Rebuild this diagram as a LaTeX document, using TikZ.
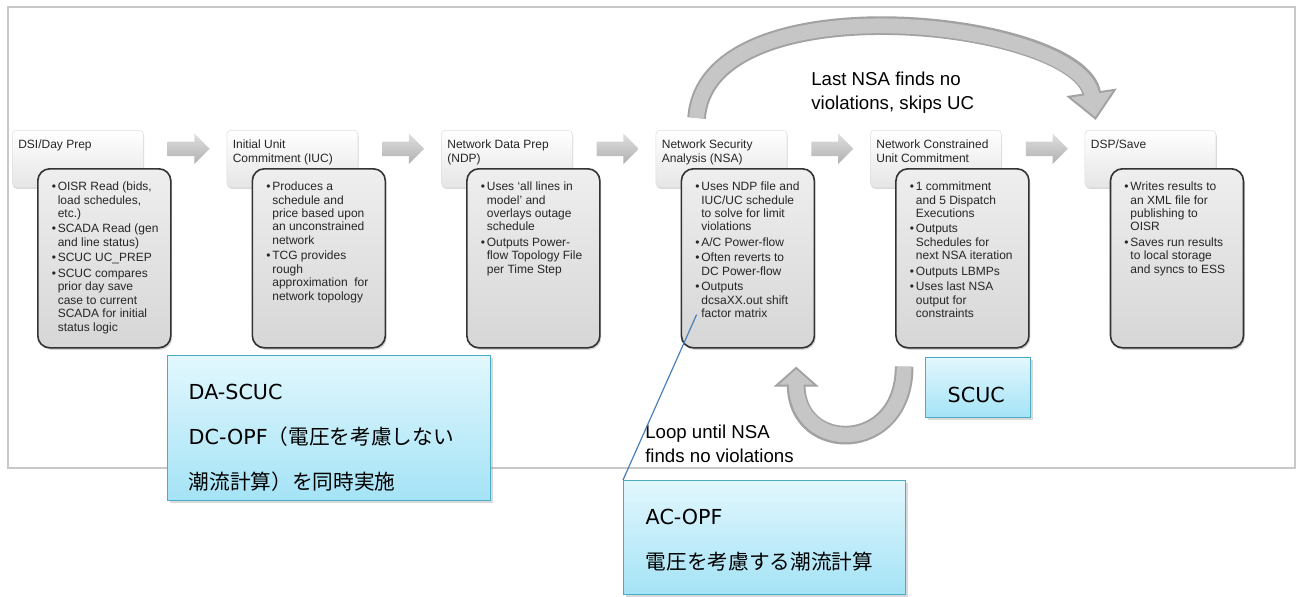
\documentclass[tikz,border=0pt]{standalone}
\usepackage{fontspec}
\setmainfont{Liberation Sans}
\newfontfamily\notefont{DejaVu Sans}
\newfontfamily\jpfont{Noto Sans CJK JP}
\usepackage{tikz}
\usetikzlibrary{positioning, arrows.meta, calc, shapes.arrows, shadows}
\definecolor{framegray}{HTML}{C8C8C8}
\definecolor{stagetext}{HTML}{262626}
\definecolor{notetop}{HTML}{E2F7FD}
\definecolor{notebottom}{HTML}{A4E3F6}
\definecolor{noteedge}{HTML}{4BACC6}
\definecolor{leaderblue}{HTML}{4A7EBB}
\definecolor{arcedge}{HTML}{A2A2A2}
\definecolor{arcfill}{HTML}{C6C6C6}

% fixed size text block: width, height, top gap, left gap, body
\newcommand{\padtext}[5]{%
  \begin{minipage}[t][#2][t]{#1}\raggedright\leftskip=#4\relax
  \vspace*{#3}#5\end{minipage}}
\newcommand{\bul}[1]{\par\hangindent=4.5pt\hangafter=1\noindent
  \makebox[4.5pt][l]{\textbullet}#1}
\newcommand{\stagehead}[1]{\padtext{98.25pt}{42.75pt}{7pt}{4.5pt}{#1}}
\newcommand{\stagebody}[1]{\padtext{99.75pt}{134.25pt}{9.8pt}{10.5pt}{\parskip=1.5pt #1}}
\newcommand{\jp}[1]{{\jpfont #1}}

\tikzset{
  headbox/.style={anchor=north west, inner sep=0pt, rounded corners=3pt,
    draw=gray!25, top color=white, bottom color=gray!20, text=stagetext,
    drop shadow={shadow xshift=0.6pt, shadow yshift=-1.2pt, opacity=0.3},
    font=\fontsize{9}{10.5}\selectfont},
  detailbox/.style={anchor=north west, inner sep=0pt, rounded corners=9pt,
    draw=black!80, line width=1.2pt, top color=gray!13, bottom color=gray!32,
    text=stagetext, drop shadow={shadow xshift=1pt, shadow yshift=-1.5pt, opacity=0.35},
    font=\fontsize{9}{10.1}\selectfont},
  flowarrow/.style={single arrow, draw=none, inner xsep=0pt, inner ysep=5.25pt,
    minimum height=31.5pt, single arrow head extend=6pt,
    top color=gray!25, bottom color=gray!62},
  notebox/.style={anchor=north west, inner sep=0pt, draw=noteedge, line width=1.1pt,
    top color=notetop, bottom color=notebottom,
    drop shadow={shadow xshift=1.5pt, shadow yshift=-1.5pt, opacity=0.3},
    font=\notefont\fontsize{15.5}{33.75}\selectfont},
  % outlined fat arrows: dark pass, then a lighter inset pass
  bigarrow/.style={draw=arcedge, line width=14pt,
    -{Triangle[length=21pt, width=37pt]},
    postaction={draw=arcfill, line width=11pt, shorten >=2.3pt,
      -{Triangle[length=17.2pt, width=30.3pt]}}},
  looparrow/.style={draw=arcedge, line width=14pt,
    -{Triangle[length=15pt, width=33pt]},
    postaction={draw=arcfill, line width=11pt, shorten >=2pt,
      -{Triangle[length=11.5pt, width=25.2pt]}}},
  steplabel/.style={anchor=north west, inner sep=0pt, align=left,
    font=\fontsize{14}{18}\selectfont}
}

\begin{document}
\begin{tikzpicture}[x=0.75pt, y=-0.75pt]
  \useasboundingbox (0,0) rectangle (1298,596);
  \draw[framegray, line width=1.1pt] (8,7) rectangle (1295,468);

  % stage headers
  \node[headbox] (h1) at (12,130) {\stagehead{DSI/Day Prep}};
  \node[headbox, right=62.25pt of h1] (h2) {\stagehead{Initial Unit\\Commitment (IUC)}};
  \node[headbox, right=62.25pt of h2] (h3) {\stagehead{Network Data Prep\\(NDP)}};
  \node[headbox, right=62.25pt of h3] (h4) {\stagehead{Network Security\\Analysis (NSA)}};
  \node[headbox, right=62.25pt of h4] (h5) {\stagehead{Network Constrained\\Unit Commitment}};
  \node[headbox, right=62.25pt of h5] (h6) {\stagehead{DSP/Save}};

  % stage details
  \node[detailbox] (d1) at ([shift={(25,38)}]h1.north west) {\stagebody{%
    \bul{OISR Read (bids,\newline load schedules,\newline etc.)}
    \bul{SCADA Read (gen\newline and line status)}
    \bul{SCUC UC\_PREP}
    \bul{SCUC compares\newline prior day save\newline case to current\newline SCADA for initial\newline status logic}}};
  \node[detailbox] (d2) at ([shift={(25,38)}]h2.north west) {\stagebody{%
    \bul{Produces a\newline schedule and\newline price based upon\newline an unconstrained\newline network}
    \bul{TCG provides\newline rough\newline approximation\ \ for\newline network topology}}};
  \node[detailbox] (d3) at ([shift={(25,38)}]h3.north west) {\stagebody{%
    \bul{Uses ‘all lines in\newline model’ and\newline overlays outage\newline schedule}
    \bul{Outputs Power-\newline flow Topology File\newline per Time Step}}};
  \node[detailbox] (d4) at ([shift={(25,38)}]h4.north west) {\stagebody{%
    \bul{Uses NDP file and\newline IUC/UC schedule\newline to solve for limit\newline violations}
    \bul{A/C Power-flow}
    \bul{Often reverts to\newline DC Power-flow}
    \bul{Outputs\newline dcsaXX.out shift\newline factor matrix}}};
  \node[detailbox] (d5) at ([shift={(25,38)}]h5.north west) {\stagebody{%
    \bul{1 commitment\newline and 5 Dispatch\newline Executions}
    \bul{Outputs\newline Schedules for\newline next NSA iteration}
    \bul{Outputs LBMPs}
    \bul{Uses last NSA\newline output for\newline constraints}}};
  \node[detailbox] (d6) at ([shift={(25,38)}]h6.north west) {\stagebody{%
    \bul{Writes results to\newline an XML file for\newline publishing to\newline OISR}
    \bul{Saves run results\newline to local storage\newline and syncs to ESS}}};

  % arrows between stages
  \node[flowarrow] (a1) at ($(h1.east)!0.5!(h2.west)+(0,-10)$) {};
  \node[flowarrow] (a2) at ($(h2.east)!0.5!(h3.west)+(0,-10)$) {};
  \node[flowarrow] (a3) at ($(h3.east)!0.5!(h4.west)+(0,-10)$) {};
  \node[flowarrow] (a4) at ($(h4.east)!0.5!(h5.west)+(0,-10)$) {};
  \node[flowarrow] (a5) at ($(h5.east)!0.5!(h6.west)+(0,-10)$) {};

  % skip over UC, and the NSA/UC loop
  \draw[bigarrow] ([shift={(41,-12)}]h4.north west)
    .. controls +(10,-140) and +(-15,-100) .. ([shift={(11,-10)}]h6.north west);
  \node[steplabel] (skip) at (811,72) {Last NSA finds no\\violations, skips UC};
  \draw[looparrow] ([shift={(9,18)}]d5.south west)
    .. controls +(0,88) and +(0,88) .. ([shift={(-19,18)}]d4.south east);
  \node[steplabel] (loop) at (645,425) {Loop until NSA\\finds no violations};

  % notes
  \node[notebox] (dascuc) at (167,355) {\padtext{242.25pt}{108.75pt}{21pt}{15.75pt}{%
    DA-SCUC\\DC-OPF\jp{（電圧を考慮しない}\\\jp{潮流計算）を同時実施}}};
  \node[notebox] (scuc) at (925,357) {\padtext{78.75pt}{45pt}{22.4pt}{16.5pt}{SCUC}};
  \node[notebox] (acopf) at (623,480) {\padtext{211.5pt}{85.5pt}{21pt}{16.5pt}{%
    AC-OPF\\\jp{電圧を考慮する潮流計算}}};
  \draw[leaderblue, line width=0.9pt] (acopf.north west) -- ([shift={(16,-34)}]d4.south west);
\end{tikzpicture}
\end{document}
